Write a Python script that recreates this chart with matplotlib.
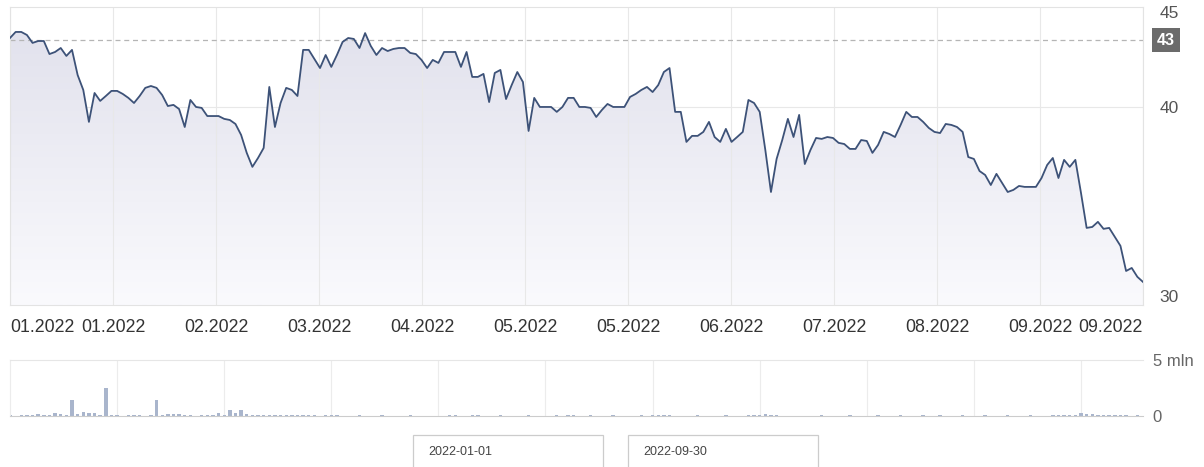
import numpy as np
import matplotlib
matplotlib.use('Agg')
import matplotlib.pyplot as plt
from matplotlib.colors import LinearSegmentedColormap
from matplotlib.patches import Rectangle

plt.rcParams['font.family'] = ['Liberation Sans', 'DejaVu Sans']

# closing prices, one per session (2022-01-01 .. 2022-09-30)
prices = [
    43.65, 43.97, 43.97, 43.81, 43.39, 43.49, 43.49, 42.80, 42.91, 43.12,
    42.70, 43.02, 41.69, 40.90, 39.21, 40.74, 40.32, 40.58, 40.85, 40.85,
    40.69, 40.48, 40.21, 40.58, 41.01, 41.11, 41.01, 40.63, 40.05, 40.11,
    39.89, 38.94, 40.37, 40.00, 39.95, 39.52, 39.52, 39.52, 39.37, 39.31,
    39.10, 38.52, 37.57, 36.83, 37.30, 37.83, 41.06, 38.94, 40.21, 41.01,
    40.90, 40.58, 43.02, 43.02, 42.54, 42.06, 42.75, 42.12, 42.75, 43.44,
    43.65, 43.60, 43.12, 43.91, 43.23, 42.75, 43.12, 42.96, 43.07, 43.12,
    43.12, 42.86, 42.80, 42.49, 42.06, 42.49, 42.33, 42.91, 42.91, 42.91,
    42.12, 42.91, 41.59, 41.59, 41.75, 40.26, 41.80, 41.96, 40.42, 41.16,
    41.85, 41.32, 38.73, 40.48, 40.00, 40.00, 40.00, 39.74, 40.00, 40.48,
    40.48, 40.00, 40.00, 39.95, 39.47, 39.84, 40.16, 40.00, 40.00, 40.00,
    40.53, 40.69, 40.90, 41.06, 40.79, 41.16, 41.85, 42.06, 39.74, 39.74,
    38.15, 38.47, 38.47, 38.68, 39.21, 38.41, 38.15, 38.84, 38.15, 38.41,
    38.68, 40.37, 40.21, 39.74, 37.72, 35.50, 37.25, 38.25, 39.37, 38.41,
    39.58,
    36.98, 37.72, 38.36, 38.31, 38.41, 38.36, 38.10, 38.04, 37.78, 37.78,
    38.25, 38.20, 37.57, 37.99, 38.68, 38.57, 38.41, 39.05, 39.74, 39.47,
    39.47, 39.21, 38.89, 38.68, 38.62, 39.10, 39.05, 38.94, 38.68, 37.35,
    37.25, 36.61, 36.40, 35.87, 36.46, 35.98, 35.50, 35.61, 35.82, 35.77,
    35.77, 35.77, 36.24, 36.93, 37.30, 36.24, 37.20, 36.83, 37.20, 35.45,
    33.60, 33.65, 33.92, 33.55, 33.60, 33.12, 32.65, 31.32, 31.48, 31.01,
    30.74,
]

# volume in millions of shares
volume_mln = [
    0.05, 0.04, 0.06, 0.05, 0.08, 0.15, 0.06, 0.05, 0.30, 0.15,
    0.10, 1.40, 0.20, 0.40, 0.30, 0.30, 0.10, 2.50, 0.08, 0.05,
    0.04, 0.05, 0.06, 0.05, 0.04, 0.06, 1.40, 0.08, 0.15, 0.15,
    0.15, 0.12, 0.05, 0.04, 0.05, 0.06, 0.05, 0.25, 0.10, 0.50,
    0.30, 0.50, 0.20, 0.10, 0.12, 0.08, 0.10, 0.06, 0.05, 0.10,
    0.06, 0.05, 0.08, 0.06, 0.05, 0.04, 0.06, 0.10, 0.05, 0.04,
    0.04, 0.03, 0.05, 0.04, 0.03, 0.04, 0.05, 0.03, 0.04, 0.03,
    0.04, 0.05, 0.03, 0.04, 0.03, 0.04, 0.03, 0.04, 0.05, 0.08,
    0.04, 0.03, 0.05, 0.10, 0.04, 0.03, 0.04, 0.05, 0.03, 0.04,
    0.03, 0.04, 0.05, 0.03, 0.04, 0.03, 0.04, 0.05, 0.04, 0.10,
    0.05, 0.04, 0.03, 0.05, 0.04, 0.03, 0.04, 0.05, 0.03, 0.04,
    0.03, 0.04, 0.05, 0.04, 0.06, 0.05, 0.12, 0.05, 0.04, 0.03,
    0.04, 0.03, 0.05, 0.04, 0.03, 0.04, 0.03, 0.05, 0.04, 0.03,
    0.04, 0.05, 0.06, 0.08, 0.15, 0.06, 0.05, 0.04, 0.03, 0.04,
    0.03, 0.04, 0.03, 0.04, 0.05, 0.03, 0.04, 0.03, 0.04, 0.05,
    0.03, 0.04, 0.03, 0.04, 0.05, 0.04, 0.03, 0.04, 0.05, 0.04,
    0.03, 0.04, 0.05, 0.03, 0.04, 0.05, 0.04, 0.03, 0.04, 0.05,
    0.04, 0.03, 0.04, 0.05, 0.04, 0.03, 0.04, 0.05, 0.04, 0.03,
    0.04, 0.05, 0.04, 0.03, 0.04, 0.05, 0.06, 0.05, 0.08, 0.12,
    0.30, 0.20, 0.15, 0.10, 0.08, 0.06, 0.05, 0.06, 0.05, 0.04,
    0.05, 0.04,
]

tick_labels = ['01.2022', '01.2022', '02.2022', '03.2022', '04.2022', '05.2022',
               '05.2022', '06.2022', '07.2022', '08.2022', '09.2022', '09.2022']
price_ticks = [30, 40, 45]
ref_price = 43.54
ref_label = '43'
date_from = '2022-01-01'
date_to = '2022-09-30'

n = len(prices)
x = np.arange(n)
ymin, ymax = 29.52, 45.29

fig = plt.figure(figsize=(12.04, 4.67), dpi=100)

# price panel
ax = fig.add_axes([10 / 1204, 1 - 305 / 467, 1133 / 1204, 298 / 467])
cmap = LinearSegmentedColormap.from_list('fade', ['#fafafd', '#e2e2ed'])
grad = np.linspace(0, 1, 256).reshape(-1, 1)
im = ax.imshow(grad, aspect='auto', cmap=cmap, origin='lower',
               extent=[0, n - 1, ymin, max(prices)], zorder=1)
area = ax.fill_between(x, prices, ymin, facecolor='none', edgecolor='none')
im.set_clip_path(area.get_paths()[0], transform=ax.transData)
ax.plot(x, prices, color='#3d5278', lw=1.3, zorder=3)
ax.axhline(ref_price, color='#b5b5b5', lw=0.9, ls=(0, (4, 3)), zorder=2)
ax.axhline(40, color='#e8e8e8', lw=0.8, zorder=0.5)

ax.set_xlim(0, n - 1)
ax.set_ylim(ymin, ymax)
ax.set_xticks(np.linspace(0, n - 1, len(tick_labels)))
ax.set_xticklabels(tick_labels)
lbls = ax.get_xticklabels()
lbls[0].set_ha('left')
lbls[-1].set_ha('right')
ax.grid(axis='x', color='#e8e8e8', lw=0.8, zorder=0.5)
ax.tick_params(axis='x', length=0, pad=10, labelsize=12.8, labelcolor='#333333')
ax.yaxis.tick_right()
ax.set_yticks(price_ticks)
ax.tick_params(axis='y', length=0, pad=12, labelsize=12.5, labelcolor='#555555')
for s in ax.spines.values():
    s.set_color('#e3e3e3')

ax.annotate(ref_label, xy=(1.0, ref_price), xycoords=('axes fraction', 'data'),
            xytext=(10, 0), textcoords='offset points', ha='left', va='center',
            color='white', fontsize=11.5, fontweight='bold',
            bbox=dict(boxstyle='square,pad=0.3', fc='#6b6b6b', ec='none'))

# volume panel
ax2 = fig.add_axes([10 / 1204, 1 - 416 / 467, 1133 / 1204, 56 / 467])
ax2.bar(x, volume_mln, width=0.6, color='#a9b5cc', zorder=2)
ax2.set_xlim(0, n - 1)
ax2.set_ylim(0, 5)
ax2.set_xticks(np.arange(19, n, 19))
ax2.set_xticklabels([])
ax2.grid(axis='x', color='#ececec', lw=0.8, zorder=0)
ax2.tick_params(axis='x', length=0)
ax2.yaxis.tick_right()
ax2.set_yticks([0, 5])
ax2.set_yticklabels(['0', '5 mln'])
ax2.tick_params(axis='y', length=0, pad=7, labelsize=12, labelcolor='#666666')
ax2.spines['right'].set_visible(False)
ax2.spines['top'].set_color('#e6e6e6')
ax2.spines['left'].set_color('#ececec')
ax2.spines['bottom'].set_color('#cccccc')

# date range inputs
for left, txt in [(413, date_from), (628, date_to)]:
    fig.patches.append(Rectangle((left / 1204, -0.02), 190 / 1204, 0.0885,
                                 transform=fig.transFigure, fc='white',
                                 ec='#cccccc', lw=0.9))
    fig.text((left + 15) / 1204, 1 - 452 / 467, txt, fontsize=9,
             color='#444444', va='center')

fig.savefig('out.png', dpi=100)
